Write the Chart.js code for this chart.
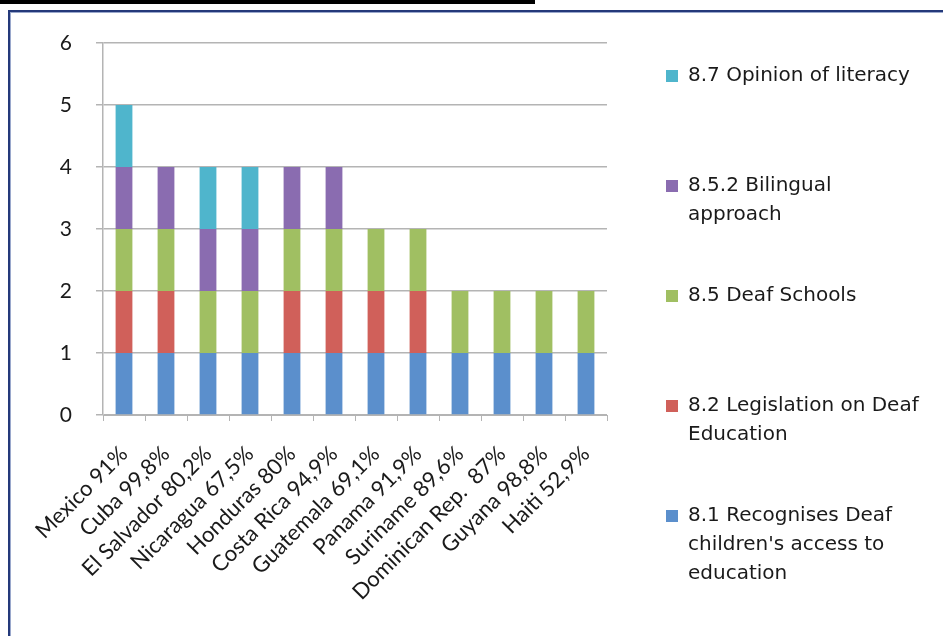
<!DOCTYPE html>
<html>
<head>
<meta charset="utf-8">
<script src="https://cdn.jsdelivr.net/npm/chart.js@4/dist/chart.umd.min.js"></script>
<style>
    html, body { margin: 0; padding: 0; background: #fff; }
    body { width: 943px; height: 636px; position: relative; overflow: hidden; }
    #topbar { position: absolute; left: 0; top: 0; width: 535px; height: 4px; background: #000; }
    #frame { position: absolute; left: 8px; top: 10px; right: -4px; bottom: -4px; border-top: 2px solid #24397a; border-left: 2px solid #24397a; box-shadow: inset 1px 1px 0 #9aa8cc; }
    #wrap { position: absolute; left: 0; top: 0; width: 943px; height: 636px; }
</style>
</head>
<body>
<div id="topbar"></div>
<div id="frame"></div>
<div id="wrap"><canvas id="chart"></canvas></div>
<script>
const countries = ["Mexico 91%", "Cuba 99,8%", "El Salvador 80,2%", "Nicaragua 67,5%", "Honduras 80%", "Costa Rica 94,9%",
    "Guatemala 69,1%", "Panama 91,9%", "Suriname 89,6%", "Dominican Rep.  87%", "Guyana 98,8%", "Haiti 52,9%"];
const recognises = [1, 1, 1, 1, 1, 1, 1, 1, 1, 1, 1, 1];
const legislation = [1, 1, 0, 0, 1, 1, 1, 1, 0, 0, 0, 0];
const deafSchools = [1, 1, 1, 1, 1, 1, 1, 1, 1, 1, 1, 1];
const bilingual = [1, 1, 1, 1, 1, 1, 0, 0, 0, 0, 0, 0];
const literacy = [1, 0, 1, 1, 0, 0, 0, 0, 0, 0, 0, 0];
const yTicks = [0, 1, 2, 3, 4, 5, 6];

(() => {
    const $ = query => document.querySelector(query);
    const series = [
        { label: ["8.1 Recognises Deaf", "children's access to", "education"], data: recognises, color: "#5b8fcc" },
        { label: ["8.2 Legislation on Deaf", "Education", ""], data: legislation, color: "#d0605a" },
        { label: ["8.5 Deaf Schools", "", ""], data: deafSchools, color: "#a0bf62" },
        { label: ["8.5.2 Bilingual", "approach", ""], data: bilingual, color: "#8a6cb0" },
        { label: ["8.7 Opinion of literacy", "", ""], data: literacy, color: "#4fb5cc" }
    ];

    // the layout caps a side legend at a quarter of the width, widen it after fit
    const legendWidth = {
        id: "legendWidth",
        afterInit: chart => {
            const fit = chart.legend.fit;
            chart.legend.fit = function () {
                fit.call(this);
                this.width = 292;
            };
        }
    };

    new Chart($("#chart"), {
        type: "bar",
        data: {
            labels: countries,
            datasets: series.map(s => ({
                label: s.label,
                data: s.data,
                backgroundColor: s.color,
                borderWidth: 0,
                barPercentage: 0.4,
                categoryPercentage: 1
            }))
        },
        plugins: [legendWidth],
        options: {
            responsive: true,
            maintainAspectRatio: false,
            animation: false,
            layout: { padding: { top: 43, right: 8, bottom: 0, left: 0 } },
            scales: {
                x: {
                    stacked: true,
                    grid: { display: true, offset: true, drawOnChartArea: false, color: "#b4b4b4", tickLength: 6 },
                    border: { color: "#b4b4b4" },
                    ticks: {
                        color: "#1a1a1a",
                        font: { family: "Lato", size: 22 },
                        minRotation: 45,
                        maxRotation: 45,
                        autoSkip: false,
                        padding: 20
                    },
                    afterFit: scale => { scale.height = 221; }
                },
                y: {
                    stacked: true,
                    min: yTicks[0],
                    max: yTicks[yTicks.length - 1],
                    afterBuildTicks: scale => { scale.ticks = yTicks.map(v => ({ value: v })); },
                    grid: { color: "#b4b4b4", lineWidth: 1.5, tickLength: 7 },
                    border: { color: "#b4b4b4", width: 1.5 },
                    ticks: {
                        color: "#1a1a1a",
                        font: { family: "Lato", size: 21 },
                        padding: 24
                    },
                    afterFit: scale => { scale.width = 103; }
                },
                gap: {
                    position: "right",
                    display: true,
                    grid: { display: false },
                    border: { display: false },
                    ticks: { display: false },
                    afterFit: scale => { scale.width = 36; }
                }
            },
            plugins: {
                tooltip: { enabled: false },
                legend: {
                    position: "right",
                    align: "start",
                    reverse: true,
                    labels: {
                        boxWidth: 12,
                        boxHeight: 12,
                        padding: 23,
                        color: "#1a1a1a",
                        font: { family: "DejaVu Sans", size: 20, lineHeight: 1.45 }
                    }
                }
            }
        }
    });
})();
</script>
</body>
</html>
